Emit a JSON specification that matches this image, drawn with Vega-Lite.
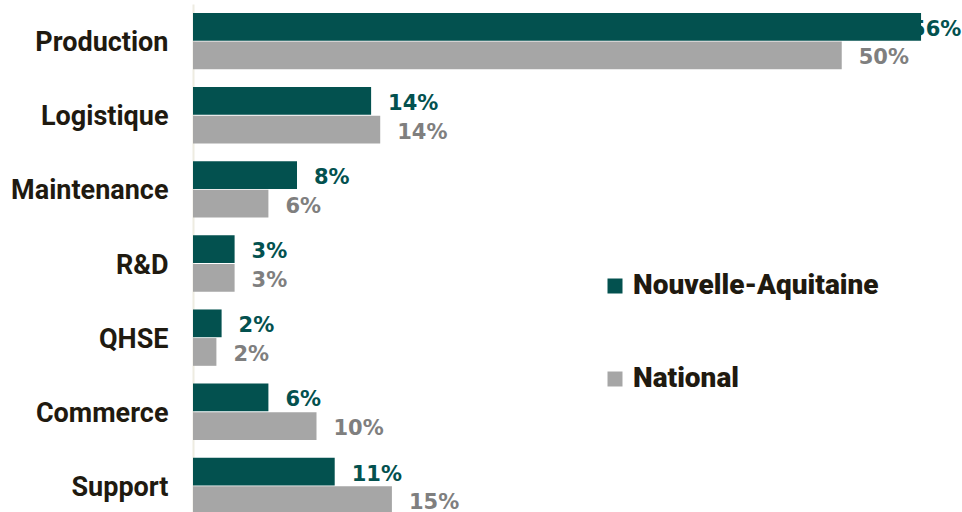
{
  "$schema": "https://vega.github.io/schema/vega-lite/v6.json",
  "autosize": {"type": "none"},
  "padding": {"left": 193, "top": 4, "right": 0, "bottom": 0},
  "width": 769,
  "height": 519,
  "background": "white",
  "config": {"view": {"stroke": null}, "font": "Roboto"},
  "data": {"values": [
    {"category": "Production", "series": "Nouvelle-Aquitaine", "value": 56, "label": "56%"},
    {"category": "Production", "series": "National", "value": 49.9, "label": "50%"},
    {"category": "Logistique", "series": "Nouvelle-Aquitaine", "value": 13.7, "label": "14%"},
    {"category": "Logistique", "series": "National", "value": 14.4, "label": "14%"},
    {"category": "Maintenance", "series": "Nouvelle-Aquitaine", "value": 8.0, "label": "8%"},
    {"category": "Maintenance", "series": "National", "value": 5.8, "label": "6%"},
    {"category": "R&D", "series": "Nouvelle-Aquitaine", "value": 3.2, "label": "3%"},
    {"category": "R&D", "series": "National", "value": 3.2, "label": "3%"},
    {"category": "QHSE", "series": "Nouvelle-Aquitaine", "value": 2.2, "label": "2%"},
    {"category": "QHSE", "series": "National", "value": 1.8, "label": "2%"},
    {"category": "Commerce", "series": "Nouvelle-Aquitaine", "value": 5.8, "label": "6%"},
    {"category": "Commerce", "series": "National", "value": 9.5, "label": "10%"},
    {"category": "Support", "series": "Nouvelle-Aquitaine", "value": 10.9, "label": "11%"},
    {"category": "Support", "series": "National", "value": 15.3, "label": "15%"}
  ]},
  "encoding": {
    "y": {
      "field": "category", "type": "nominal",
      "sort": ["Production", "Logistique", "Maintenance", "R&D", "QHSE", "Commerce", "Support"],
      "scale": {"paddingInner": 0.24, "paddingOuter": 0.12},
      "axis": {
        "title": null, "ticks": false, "domainColor": "#eeece1", "domainWidth": 2,
        "labelFont": "Roboto", "labelFontSize": 27, "labelFontWeight": "bold",
        "labelColor": "#1f1a10", "labelPadding": 25, "labelLimit": 300, "labelOffset": 2
      }
    },
    "yOffset": {
      "field": "series", "type": "nominal",
      "sort": ["Nouvelle-Aquitaine", "National"],
      "scale": {"paddingInner": 0.03}
    },
    "x": {
      "field": "value", "type": "quantitative",
      "scale": {"domain": [0, 59.15], "nice": false, "zero": true},
      "axis": null
    }
  },
  "layer": [
    {
      "mark": {"type": "bar"},
      "encoding": {
        "color": {
          "field": "series", "type": "nominal",
          "scale": {"domain": ["Nouvelle-Aquitaine", "National"], "range": ["#03514f", "#a6a6a6"]},
          "legend": {
            "title": null, "orient": "none", "legendX": 408, "legendY": 268,
            "symbolType": "square", "symbolSize": 225, "symbolStrokeWidth": 0,
            "labelFont": "Roboto", "labelFontSize": 28, "labelFontWeight": 900,
            "labelColor": "#1f1a10", "rowPadding": 65, "labelOffset": 4, "labelLimit": 400
          }
        }
      }
    },
    {
      "transform": [{"filter": "datum.value < 55"}],
      "mark": {"type": "text", "align": "left", "baseline": "middle", "dx": 17, "dy": 3,
               "font": "DejaVu Sans", "fontSize": 21, "fontWeight": "bold"},
      "encoding": {
        "text": {"field": "label"},
        "color": {"condition": {"test": "datum.series === 'National'", "value": "#7f7f7f"}, "value": "#03514f"}
      }
    },
    {
      "transform": [{"filter": "datum.value >= 55"}],
      "mark": {"type": "text", "align": "left", "baseline": "middle", "dx": -10, "dy": 3,
               "font": "DejaVu Sans", "fontSize": 21, "fontWeight": "bold", "color": "#03514f"},
      "encoding": {
        "text": {"field": "label"}
      }
    }
  ]
}
